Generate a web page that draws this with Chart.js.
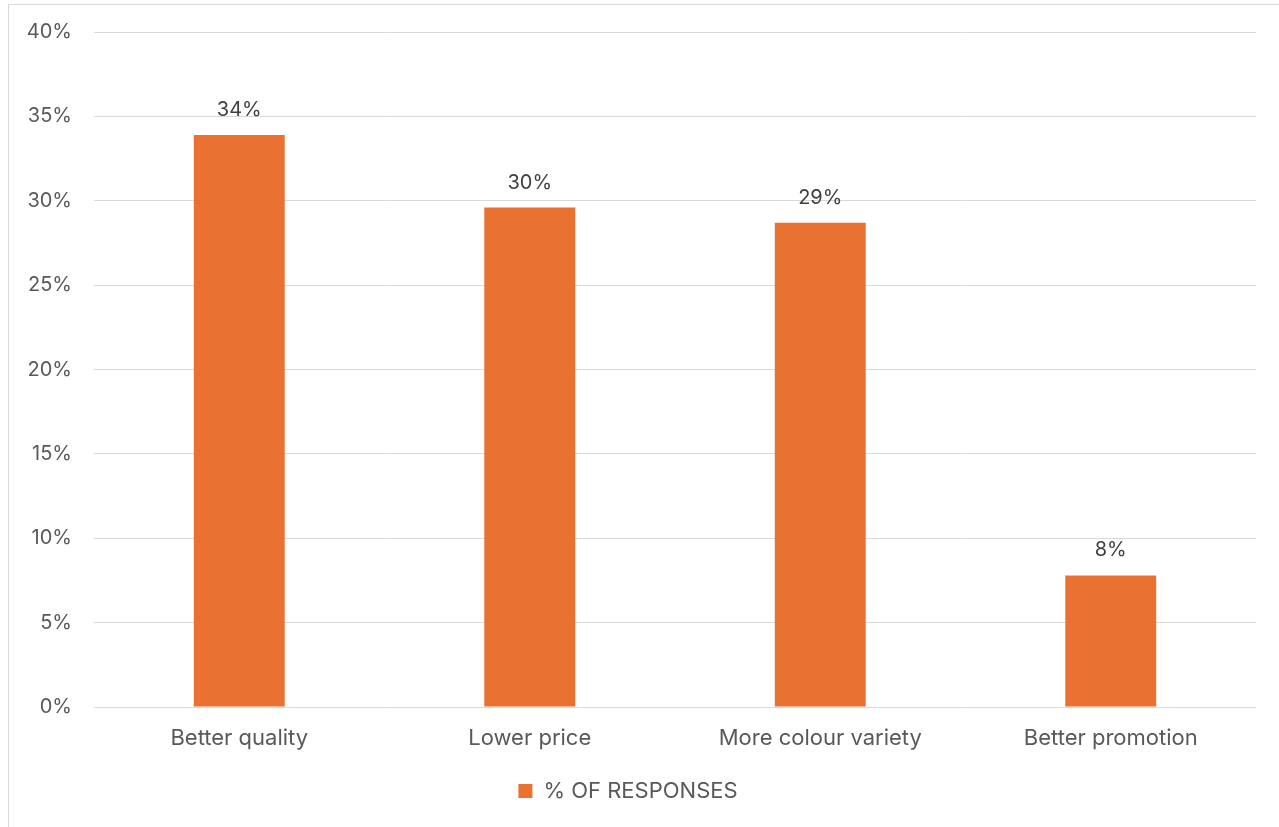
<!DOCTYPE html>
<html>
<head>
<meta charset="utf-8">
<script src="https://cdn.jsdelivr.net/npm/chart.js@4/dist/chart.umd.min.js"></script>
<style>
  html, body { margin: 0; padding: 0; background: #ffffff; }
  #wrap { width: 1279px; height: 827px; }
</style>
</head>
<body>
<div id="wrap"><canvas id="c" width="1279" height="827"></canvas></div>
<script>
// Survey results: share of responses per suggested improvement
const categories = ['Better quality', 'Lower price', 'More colour variety', 'Better promotion'];
const responseShare = [33.9, 29.6, 28.7, 7.8];
const seriesName = '% OF RESPONSES';
const yTicks = [0, 5, 10, 15, 20, 25, 30, 35, 40];

const FONT = "Inter, 'Open Sans', 'Liberation Sans', Arial, sans-serif";
const TEXT = '#595959';
const BAR = '#E97132';
const GRID = '#d9d9d9';

// Thin frame around the whole chart
const framePlugin = {
  id: 'frame',
  beforeDraw(chart) {
    const ctx = chart.ctx;
    ctx.save();
    ctx.fillStyle = '#ffffff';
    ctx.fillRect(0, 0, chart.width, chart.height);
    ctx.strokeStyle = GRID;
    ctx.lineWidth = 1;
    ctx.strokeRect(8.5, 4.5, chart.width + 10, chart.height + 10);
    ctx.restore();
  }
};

// Value labels above each bar
const valueLabels = {
  id: 'valueLabels',
  afterDatasetsDraw(chart) {
    const ctx = chart.ctx;
    ctx.save();
    ctx.font = '20px ' + FONT;
    ctx.fillStyle = '#404040';
    ctx.textAlign = 'center';
    ctx.textBaseline = 'middle';
    chart.getDatasetMeta(0).data.forEach((bar, i) => {
      const v = chart.data.datasets[0].data[i];
      ctx.fillText(Math.round(v) + '%', bar.x, bar.y - 25);
    });
    ctx.restore();
  }
};

new Chart(document.getElementById('c'), {
  type: 'bar',
  data: {
    labels: categories,
    datasets: [{
      label: seriesName,
      data: responseShare,
      backgroundColor: BAR,
      borderWidth: 0,
      categoryPercentage: 0.313,
      barPercentage: 1.0
    }]
  },
  options: {
    responsive: false,
    animation: false,
    layout: { padding: { top: 32, right: 23, bottom: 15, left: 0 } },
    plugins: {
      tooltip: { enabled: false },
      legend: {
        position: 'bottom',
        labels: {
          boxWidth: 14,
          boxHeight: 14,
          color: TEXT,
          font: { family: FONT, size: 22 },
          padding: 10
        }
      }
    },
    scales: {
      x: {
        grid: { display: false, drawTicks: false },
        border: { display: false },
        ticks: { color: TEXT, font: { family: FONT, size: 22 }, padding: 18, maxRotation: 0 },
        afterFit(scale) {
          scale.height = 63;
          scale.paddingLeft = 0;
          scale.paddingRight = 0;
        }
      },
      y: {
        min: 0,
        max: 40,
        afterBuildTicks(scale) { scale.ticks = yTicks.map(v => ({ value: v })); },
        grid: { color: GRID, lineWidth: 1, drawTicks: false },
        border: { display: false },
        ticks: {
          color: TEXT,
          font: { family: FONT, size: 20 },
          padding: 22,
          callback: v => v + '%'
        },
        afterFit(scale) {
          scale.width = 94;
          scale.paddingTop = 0;
          scale.paddingBottom = 0;
        }
      }
    }
  },
  plugins: [framePlugin, valueLabels]
});
</script>
</body>
</html>
